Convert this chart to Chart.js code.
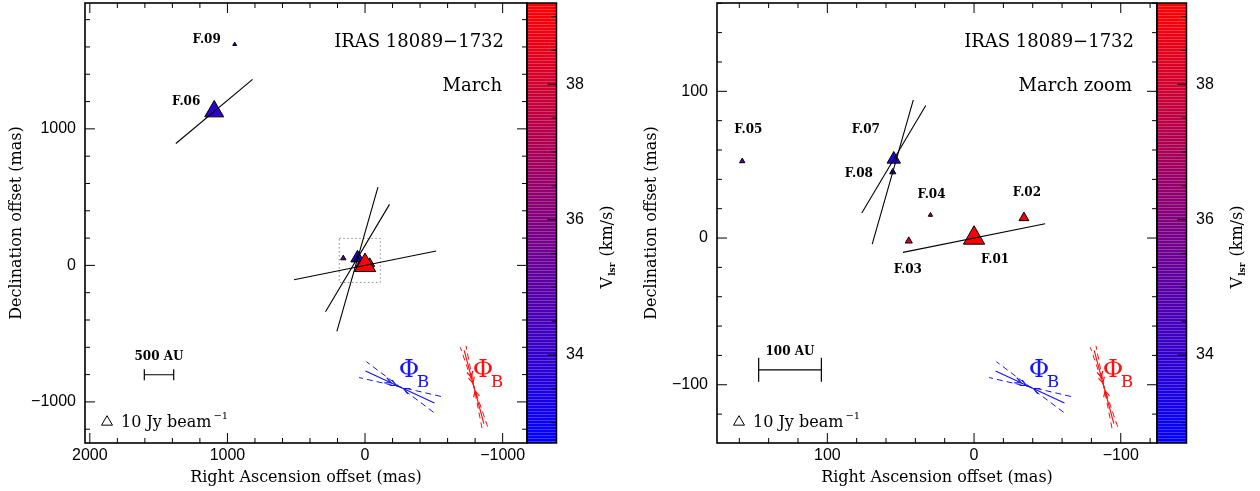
<!DOCTYPE html>
<html>
<head>
<meta charset="utf-8">
<script src="https://cdn.jsdelivr.net/npm/chart.js@4.4.1/dist/chart.umd.min.js"></script>
<style>
  body { margin: 0; background: #fff; }
  #wrap { position: relative; width: 1260px; height: 491px; }
  #wrap canvas { position: absolute; top: 0; }
</style>
</head>
<body>
<div id="wrap">
  <canvas id="march" width="630" height="491" style="left:0"></canvas>
  <canvas id="zoom" width="630" height="491" style="left:630px"></canvas>
</div>
<script>
// maser features, offsets in mas relative to F.01
const features = ['F.01', 'F.02', 'F.03', 'F.04', 'F.05', 'F.06', 'F.07', 'F.08', 'F.09'];
const raOff    = [0, -34, 44.5, 29.7, 158, 1096, 54.7, 55.4, 947];
const decOff   = [0, 13.8, -2, 15.7, 52.4, 1128, 53.7, 45, 1619];
const vlsr     = [39.1, 38.8, 38.0, 37.0, 35.0, 33.9, 33.5, 33.5, 33.3];   // km/s
const peakFlux = [37.8, 8.1, 4.2, 1.6, 2.4, 30, 15, 3.2, 1.3];           // Jy/beam

// linear polarization vectors (position angle in deg, fraction in %)
const polAngle = [-78.6, null, null, null, null, -50.1, -30.8, -15.9, null];
const polFrac  = [2.9, null, null, null, null, 2.0, 2.5, 3.0, null];

// colour bar
const vRange   = [32.7, 39.2];
const cbLabels = [34, 36, 38];

// magnetic field angle markers: blue and red
const fieldPA    = [65, 15];
const fieldErr   = [12, 4];
const fieldColor = ['#1515ff', '#ff1010'];

// zoom box drawn on the wide map (mas)
const zoomBoxRA  = [-111, 187];
const zoomBoxDec = [-125, 198];

const distanceKpc = 2.34;
const legendFlux = 10;

const panels = {
  march: { ra: [-1177, 2035], dec: [-1301, 1922], major: 1000, minor: 200, yWidth: 85, yTitlePad: 7,
           labelled: ['F.06', 'F.09'], subtitle: 'March', barAU: 500, barAt: [1604, -801], barTick: 5.5, box: true },
  zoom:  { ra: [-124.7, 175.2], dec: [-139.7, 160.2], major: 100, minor: 20, yWidth: 87, yTitlePad: 12.5,
           labelled: ['F.01', 'F.02', 'F.03', 'F.04', 'F.05', 'F.07', 'F.08'], subtitle: 'March zoom',
           barAU: 100, barAt: [146.8, -89.8], barTick: 12, box: false }
};

const labelOffset = {
  'F.01': [21, 22], 'F.02': [3, -25], 'F.03': [-1, 29], 'F.04': [1, -20.5], 'F.05': [6, -31],
  'F.06': [-28, -10], 'F.07': [-28, -29], 'F.08': [-34, 2], 'F.09': [-28, -4]
};

const SERIF = 'DejaVu Serif';
const SANS = 'Liberation Sans';

function colorFor(v) {
  const t = Math.max(0, Math.min(1, (v - vRange[0]) / (vRange[1] - vRange[0])));
  return [Math.round(255 * t), 0, Math.round(255 * (1 - t))];
}
const rgb = c => `rgb(${c[0]},${c[1]},${c[2]})`;
const radiusFor = s => 2 * Math.sqrt(s);
const fmt = v => v < 0 ? '\u2212' + Math.abs(v) : String(Math.abs(v));

function tickValues(min, max, step) {
  const out = [];
  for (let k = Math.ceil(min / step - 1e-9); k * step <= max + 1e-9; k++) out.push({ value: Math.round(k * step * 100) / 100 });
  return out;
}
const isMult = (v, m) => Math.abs(v / m - Math.round(v / m)) < 1e-6;

// keep Chart.js from adding label overhang to the chart area
function noOverhang(s) {
  s.paddingTop = 0; s.paddingBottom = 0; s.paddingLeft = 0; s.paddingRight = 0;
}

function drawTriangle(ctx, x, y, r) {
  ctx.beginPath();
  ctx.moveTo(x, y - r);
  ctx.lineTo(x + 0.866 * r, y + 0.5 * r);
  ctx.lineTo(x - 0.866 * r, y + 0.5 * r);
  ctx.closePath();
}

function drawField(ctx, cx, cy, pa, err, color) {
  const dir = a => [-Math.sin(a * Math.PI / 180), -Math.cos(a * Math.PI / 180)];
  ctx.strokeStyle = color;
  ctx.lineWidth = 1;
  // dashed uncertainty lines
  ctx.setLineDash([6, 4]);
  [pa - err, pa + err].forEach(a => {
    const [ux, uy] = dir(a);
    ctx.beginPath();
    ctx.moveTo(cx - ux * 42, cy - uy * 42);
    ctx.lineTo(cx + ux * 42, cy + uy * 42);
    ctx.stroke();
  });
  ctx.setLineDash([]);
  const [ux, uy] = dir(pa);
  ctx.lineWidth = 1.2;
  ctx.beginPath();
  ctx.moveTo(cx - ux * 38, cy - uy * 38);
  ctx.lineTo(cx + ux * 38, cy + uy * 38);
  ctx.stroke();
  // arrowheads converging on the centre
  const px = -uy, py = ux;
  [[10, 1], [16, 1], [-10, -1]].forEach(([d, s]) => {
    const bx = cx + ux * d, by = cy + uy * d;
    const tipx = cx + ux * (d - 6 * s), tipy = cy + uy * (d - 6 * s);
    ctx.beginPath();
    ctx.moveTo(bx + px * 3, by + py * 3);
    ctx.lineTo(tipx, tipy);
    ctx.lineTo(bx - px * 3, by - py * 3);
    ctx.stroke();
  });
  // label
  ctx.fillStyle = color;
  ctx.textAlign = 'center';
  ctx.textBaseline = 'middle';
  ctx.font = `25px ${SERIF}`;
  ctx.fillText('\u03A6', cx + 9, cy - 17);
  ctx.font = `17px ${SERIF}`;
  ctx.fillText('B', cx + 23, cy - 4);
}

const decor = {
  id: 'decor',
  beforeDatasetsDraw(chart) {
    const cfg = panels[chart.canvas.id];
    if (!cfg.box) return;
    const ctx = chart.ctx, sx = chart.scales.x, sy = chart.scales.y;
    const x0 = sx.getPixelForValue(zoomBoxRA[1]), x1 = sx.getPixelForValue(zoomBoxRA[0]);
    const y0 = sy.getPixelForValue(zoomBoxDec[1]), y1 = sy.getPixelForValue(zoomBoxDec[0]);
    ctx.save();
    ctx.strokeStyle = '#8a8a8a';
    ctx.lineWidth = 1;
    ctx.setLineDash([1.5, 2.5]);
    ctx.strokeRect(x0, y0, x1 - x0, y1 - y0);
    ctx.restore();
  },
  afterDatasetsDraw(chart) {
    const cfg = panels[chart.canvas.id];
    const ctx = chart.ctx, ca = chart.chartArea;
    const sx = chart.scales.x, sy = chart.scales.y, sc = chart.scales.c;
    const inside = (x, y) => x >= ca.left && x <= ca.right && y >= ca.top && y <= ca.bottom;
    ctx.save();

    // polarization vectors
    ctx.save();
    ctx.beginPath();
    ctx.rect(ca.left, ca.top, ca.right - ca.left, ca.bottom - ca.top);
    ctx.clip();
    ctx.strokeStyle = '#000';
    ctx.lineWidth = 1.1;
    features.forEach((n, i) => {
      if (polAngle[i] == null) return;
      const cx = sx.getPixelForValue(raOff[i]), cy = sy.getPixelForValue(decOff[i]);
      if (!inside(cx, cy)) return;
      const half = polFrac[i] * 25, a = polAngle[i] * Math.PI / 180;
      const dx = -Math.sin(a) * half, dy = -Math.cos(a) * half;
      ctx.beginPath();
      ctx.moveTo(cx - dx, cy - dy);
      ctx.lineTo(cx + dx, cy + dy);
      ctx.stroke();
    });
    ctx.restore();

    // feature names
    ctx.fillStyle = '#000';
    ctx.font = `bold 12px ${SERIF}`;
    ctx.textAlign = 'center';
    ctx.textBaseline = 'middle';
    cfg.labelled.forEach(n => {
      const i = features.indexOf(n);
      const [ox, oy] = labelOffset[n];
      ctx.fillText(n, sx.getPixelForValue(raOff[i]) + ox, sy.getPixelForValue(decOff[i]) + oy);
    });

    // source name and epoch
    ctx.font = `18px ${SERIF}`;
    ctx.textAlign = 'right';
    ctx.fillText('IRAS 18089\u22121732', ca.right - 23, ca.top + 39);
    ctx.fillText(cfg.subtitle, ca.right - 25, ca.top + 83);

    // linear scale bar
    const bx0 = sx.getPixelForValue(cfg.barAt[0]);
    const bx1 = sx.getPixelForValue(cfg.barAt[0] - cfg.barAU / distanceKpc);
    const by = sy.getPixelForValue(cfg.barAt[1]);
    ctx.strokeStyle = '#000';
    ctx.lineWidth = 1.2;
    ctx.beginPath();
    ctx.moveTo(bx0, by); ctx.lineTo(bx1, by);
    ctx.moveTo(bx0, by - cfg.barTick); ctx.lineTo(bx0, by + cfg.barTick);
    ctx.moveTo(bx1, by - cfg.barTick); ctx.lineTo(bx1, by + cfg.barTick);
    ctx.stroke();
    ctx.font = `bold 12px ${SERIF}`;
    ctx.textAlign = 'center';
    ctx.fillText(cfg.barAU + ' AU', (bx0 + bx1) / 2, by - 18);

    // flux legend
    const lx = ca.left + 22, ly = ca.bottom - 21;
    ctx.lineWidth = 1;
    drawTriangle(ctx, lx, ly, radiusFor(legendFlux));
    ctx.stroke();
    ctx.font = `16px ${SERIF}`;
    ctx.textAlign = 'left';
    ctx.textBaseline = 'alphabetic';
    const txt = legendFlux + ' Jy beam';
    ctx.fillText(txt, lx + 14, ca.bottom - 16);
    const tw = ctx.measureText(txt).width;
    ctx.font = `10px ${SERIF}`;
    ctx.fillText('\u22121', lx + 16 + tw, ca.bottom - 24);

    // magnetic field angle markers
    drawField(ctx, ca.right - 127, ca.bottom - 56, fieldPA[0], fieldErr[0], fieldColor[0]);
    drawField(ctx, ca.right - 53, ca.bottom - 56, fieldPA[1], fieldErr[1], fieldColor[1]);

    // colour bar
    const cbL = ca.right, cbW = 29.5;
    for (let y = Math.floor(ca.top); y < ca.bottom; y++) {
      const c = colorFor(sc.getValueForPixel(y + 0.5));
      const mix = (y % 3 === 0) ? 0.22 : 0;
      ctx.fillStyle = rgb(c.map(k => Math.round(k + (255 - k) * mix)));
      ctx.fillRect(cbL, y, cbW, 1);
    }
    ctx.strokeStyle = '#000';
    ctx.lineWidth = 1;
    sc.ticks.forEach(t => {
      const py = sc.getPixelForValue(t.value);
      const len = cbLabels.includes(t.value) ? 9 : 5;
      ctx.beginPath();
      ctx.moveTo(cbL + cbW, py); ctx.lineTo(cbL + cbW - len, py);
      ctx.stroke();
    });
    ctx.lineWidth = 1.5;
    ctx.strokeRect(cbL, ca.top, cbW, ca.bottom - ca.top);

    // colour bar title: V_lsr (km/s)
    ctx.save();
    ctx.translate(ca.right + 79, ca.top + 244);
    ctx.rotate(-Math.PI / 2);
    ctx.fillStyle = '#000';
    ctx.textBaseline = 'alphabetic';
    ctx.textAlign = 'left';
    const big = `16px ${SERIF}`, small = `bold 9px ${SERIF}`;
    ctx.font = big; const wV = ctx.measureText('V').width;
    ctx.font = small; const wS = ctx.measureText('lsr').width;
    ctx.font = big; const wK = ctx.measureText(' (km/s)').width;
    let x = -(wV + wS + wK + 2) / 2;
    ctx.font = big; ctx.fillText('V', x, 6); x += wV + 1;
    ctx.font = small; ctx.fillText('lsr', x, 9); x += wS + 1;
    ctx.font = big; ctx.fillText(' (km/s)', x, 6);
    ctx.restore();

    // frame and inward ticks on all four sides
    ctx.strokeStyle = '#000';
    ctx.lineWidth = 1;
    sx.ticks.forEach(t => {
      const px = sx.getPixelForValue(t.value);
      const len = isMult(t.value, cfg.major) ? 10 : 5;
      ctx.beginPath();
      ctx.moveTo(px, ca.bottom); ctx.lineTo(px, ca.bottom - len);
      ctx.moveTo(px, ca.top); ctx.lineTo(px, ca.top + len);
      ctx.stroke();
    });
    sy.ticks.forEach(t => {
      const py = sy.getPixelForValue(t.value);
      const len = isMult(t.value, cfg.major) ? 10 : 5;
      ctx.beginPath();
      ctx.moveTo(ca.left, py); ctx.lineTo(ca.left + len, py);
      ctx.moveTo(ca.right, py); ctx.lineTo(ca.right - len, py);
      ctx.stroke();
    });
    ctx.lineWidth = 1.6;
    ctx.strokeRect(ca.left, ca.top, ca.right - ca.left, ca.bottom - ca.top);
    ctx.restore();
  }
};

function makeChart(id) {
  const cfg = panels[id];
  // blue features first so the red ones sit on top
  const order = features.map((n, i) => i).sort((a, b) => vlsr[a] - vlsr[b]);
  const tickFont = { family: SANS, size: 16 };
  const titleFont = { family: SERIF, size: 16 };
  const grid = { display: false, drawTicks: false };
  return new Chart(document.getElementById(id), {
    type: 'scatter',
    data: {
      datasets: [{
        data: order.map(i => ({ x: raOff[i], y: decOff[i] })),
        pointStyle: 'triangle',
        pointRadius: order.map(i => radiusFor(peakFlux[i])),
        backgroundColor: order.map(i => rgb(colorFor(vlsr[i]))),
        borderColor: '#000',
        borderWidth: 1
      }]
    },
    options: {
      responsive: false,
      animation: false,
      events: [],
      layout: { autoPadding: false, padding: { top: 3, left: 0, right: 0, bottom: 0 } },
      plugins: { legend: { display: false }, tooltip: { enabled: false } },
      scales: {
        x: {
          type: 'linear', reverse: true, min: cfg.ra[0], max: cfg.ra[1],
          grid, border: { display: false },
          afterBuildTicks: s => { s.ticks = tickValues(cfg.ra[0], cfg.ra[1], cfg.minor); },
          ticks: { autoSkip: false, maxRotation: 0, padding: 3, color: '#000', font: tickFont,
                   callback: v => isMult(v, cfg.major) ? fmt(v) : '' },
          title: { display: true, text: 'Right Ascension offset (mas)', color: '#000', font: titleFont,
                   padding: { top: 0, bottom: 4 } },
          afterFit: s => { s.height = 48; noOverhang(s); }
        },
        y: {
          type: 'linear', min: cfg.dec[0], max: cfg.dec[1],
          grid, border: { display: false },
          afterBuildTicks: s => { s.ticks = tickValues(cfg.dec[0], cfg.dec[1], cfg.minor); },
          ticks: { autoSkip: false, padding: 9, color: '#000', font: tickFont,
                   callback: v => isMult(v, cfg.major) ? fmt(v) : '' },
          title: { display: true, text: 'Declination offset (mas)', color: '#000', font: titleFont,
                   padding: { top: cfg.yTitlePad, bottom: 0 } },
          afterFit: s => { s.width = cfg.yWidth; noOverhang(s); }
        },
        c: {
          type: 'linear', position: 'right', min: vRange[0], max: vRange[1],
          grid, border: { display: false },
          afterBuildTicks: s => { s.ticks = tickValues(vRange[0], vRange[1], 0.5); },
          ticks: { autoSkip: false, padding: 39, color: '#000', font: tickFont,
                   callback: v => cbLabels.includes(v) ? String(v) : '' },
          afterFit: s => { s.width = 103; noOverhang(s); }
        }
      }
    },
    plugins: [decor]
  });
}

makeChart('march');
makeChart('zoom');
</script>
</body>
</html>
